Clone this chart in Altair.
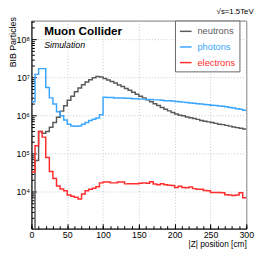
import altair as alt
import numpy as np
import pandas as pd

# ---------------- data ----------------
series_names = ["neutrons", "photons", "electrons"]
series_colors = ["#5a5a5a", "#3aa6ff", "#ff2d2d"]
bin_width = 5  # cm

neutrons = [900, 66000, 380000, 340000, 380000, 490000, 650000, 900000, 1300000, 1800000,
            2500000, 3200000, 4200000, 5300000, 6400000, 7600000, 8700000, 9800000, 10500000, 10200000,
            9300000, 8500000, 7800000, 7100000, 6300000, 5750000, 5100000, 4600000, 4100000, 3600000,
            3200000, 2900000, 2600000, 2300000, 2040000, 1820000, 1620000, 1450000, 1320000, 1200000,
            1100000, 1020000, 980000, 910000, 870000, 830000, 790000, 740000, 710000, 680000,
            650000, 620000, 590000, 575000, 550000, 525000, 500000, 480000, 460000, 440000]

photons = [2300000, 12000000, 17000000, 17000000, 5400000, 2900000, 2000000, 1260000, 980000, 760000,
           590000, 530000, 520000, 530000, 590000, 650000, 740000, 800000, 860000, 1050000,
           3020000, 2950000, 2950000, 2880000, 2880000, 2880000, 2820000, 2820000, 2750000, 2750000,
           2690000, 2690000, 2630000, 2630000, 2570000, 2570000, 2510000, 2450000, 2450000, 2400000,
           2340000, 2290000, 2240000, 2190000, 2140000, 2090000, 2040000, 2000000, 1950000, 1910000,
           1860000, 1820000, 1780000, 1740000, 1700000, 1620000, 1580000, 1510000, 1450000, 1380000]

electrons = [33000, 160000, 380000, 270000, 79000, 34000, 22000, 14000, 11700, 10600,
             8200, 7600, 7100, 6400, 8700, 10600, 11500, 12200, 13400, 17000,
             18000, 18000, 17000, 17000, 18000, 18000, 16000, 16200, 16200, 16200,
             16600, 17000, 16600, 18200, 15800, 15100, 16200, 15100, 14800, 14500,
             12900, 13800, 12900, 12600, 13200, 12000, 11500, 11500, 10700, 10500,
             9550, 9550, 9550, 9330, 8300, 8130, 7940, 8130, 9330, 6920]

x_major = [0, 50, 100, 150, 200, 250, 300]
x_minor = list(range(0, 301, 10))
y_major = [1e4, 1e5, 1e6, 1e7, 1e8]
y_major_labels = ["10⁴", "10⁵", "10⁶", "10⁷", "10⁸"]
y_domain = [1070, 3.1e8]
y_minor = [m * 10 ** d for d in range(3, 9) for m in range(2, 10)
           if y_domain[0] <= m * 10 ** d <= y_domain[1]]

x_title = "|Z| position [cm]"
y_title = "BIB Particles"
top_right_text = "√s=1.5TeV"
experiment_text = ["Muon Collider"]
status_text = ["Simulation"]

FONT = "Liberation Sans"
W, H = 220, 213

# ---------------- table ----------------
edges = np.arange(0, 300 + bin_width, bin_width)
rows = []
for name, vals in zip(series_names, [neutrons, photons, electrons]):
    vv = list(vals) + [vals[-1]]
    for e, v in zip(edges, vv):
        rows.append({"z": float(e), "n": float(v), "series": name})
df = pd.DataFrame(rows)

x_scale = alt.Scale(domain=[0, 300], nice=False, zero=False)
y_scale = alt.Scale(type="log", domain=y_domain, nice=False)

label_expr = " : ".join(
    [f"datum.value == {v:g} ? '{l}'" for v, l in zip(y_major, y_major_labels)] + ["''"]
)
legend_color_expr = " : ".join(
    [f"datum.value === '{n}' ? '{c}'" for n, c in zip(series_names, series_colors)] + ["'black'"]
)

base = alt.Chart(df)

lines = base.mark_line(interpolate="step-after", strokeWidth=1.5, clip=True).encode(
    x=alt.X("z:Q", scale=x_scale, axis=alt.Axis(
        values=x_major, ticks=False, tickSize=0, labelFontSize=9, labelPadding=2,
        labelFlush=False, grid=True, gridColor="#c8c8c8", gridDash=[1, 2],
        domainColor="#000000", title=x_title, titleFontSize=8.5, titleFontWeight="normal",
        titleAnchor="end", titleAlign="right", titleBaseline="middle", titleX=W, titleY=15)),
    y=alt.Y("n:Q", scale=y_scale, axis=alt.Axis(
        values=y_major, labelExpr=label_expr, ticks=False, tickSize=0, labelFontSize=9,
        labelPadding=2, grid=True, gridColor="#c8c8c8", gridDash=[1, 2],
        domainColor="#000000", title=y_title, titleFontSize=9, titleFontWeight="normal",
        titleAngle=270, titleAlign="right", titleBaseline="middle", titleX=-19.5, titleY=-4)),
    color=alt.Color("series:N", scale=alt.Scale(domain=series_names, range=series_colors),
                    legend=alt.Legend(orient="none", legendX=147, legendY=0, title=None,
                                      symbolType="stroke", symbolStrokeWidth=1.5, symbolSize=144,
                                      labelFontSize=9.5, padding=4, rowPadding=4, labelOffset=5,
                                      strokeColor="#666666", fillColor="white", cornerRadius=0,
                                      labelExpr="datum.label + '    '",
                                      labelColor=alt.ExprRef(expr=legend_color_expr))),
)


def tick_layer(xvals, yvals, size):
    return base.mark_line(opacity=0).encode(
        x=alt.X("z:Q", scale=x_scale, axis=alt.Axis(
            orient="top", offset=-H, values=xvals, tickSize=size, tickColor="#000000",
            labels=False, domain=False, grid=False, title=None)),
        y=alt.Y("n:Q", scale=y_scale, axis=alt.Axis(
            orient="right", offset=-W, values=yvals, tickSize=size, tickColor="#000000",
            labels=False, domain=False, grid=False, title=None)),
    )


major = tick_layer(x_major, y_major, 5)
minor = tick_layer(x_minor, y_minor, 3)

exp_label = alt.Chart(pd.DataFrame({"t": experiment_text})).mark_text(
    align="left", baseline="middle", fontSize=12, fontWeight="bold", font=FONT, color="black"
).encode(text="t:N", x=alt.value(13), y=alt.value(11))

status_label = alt.Chart(pd.DataFrame({"t": status_text})).mark_text(
    align="left", baseline="middle", fontSize=9, fontStyle="italic", font=FONT, color="black"
).encode(text="t:N", x=alt.value(13), y=alt.value(25))

chart = alt.layer(lines, major, minor, exp_label, status_label).resolve_axis(
    x="independent", y="independent"
).properties(
    width=W, height=H, autosize="none",
    padding={"left": 24, "top": 10, "right": 12, "bottom": 19},
    title=alt.Title(top_right_text, anchor="end", fontSize=8, fontWeight="normal", offset=1,
                    font=FONT),
).configure_view(stroke="#777777", strokeWidth=1).configure_axis(
    labelFont=FONT, titleFont=FONT, labelColor="#000000", titleColor="#000000"
).configure_legend(labelFont=FONT)

chart.save("out.html", embed_options={"renderer": "svg", "actions": False})
